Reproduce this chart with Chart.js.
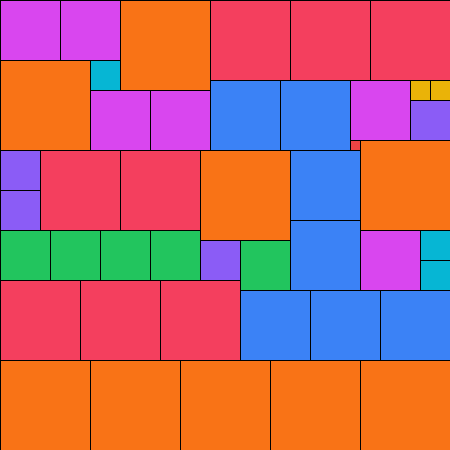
<!DOCTYPE html>
<html>
<head>
<meta charset="utf-8">
<script src="https://cdn.jsdelivr.net/npm/chart.js@4.4.1/dist/chart.umd.min.js"></script>
<style>
html,body{margin:0;padding:0;background:#fff;overflow:hidden;}
#wrap{width:450px;height:450px;position:relative;}
</style>
</head>
<body>
<div id="wrap"><canvas id="c" width="450" height="450"></canvas></div>
<script>
// Groups (colour categories)
const groups = ["magenta", "orange", "red", "blue", "cyan", "yellow", "purple", "green", "crimson"];
const groupColors = ["#d946ef", "#f97316", "#f43f5e", "#3b82f6", "#06b6d4", "#eab308", "#8b5cf6", "#22c55e", "#ef4444"];

// Cells, in grid units (grid is 45 x 45): group, left, top, side
const cellGroup = [
  "magenta","magenta","orange","red","red","red",
  "orange","cyan","magenta","magenta",
  "blue","blue","magenta","yellow","yellow","purple","crimson","orange",
  "purple","purple","red","red","orange","blue","blue",
  "green","green","green","green","purple","green","magenta","cyan","cyan",
  "red","red","red","blue","blue","blue",
  "orange","orange","orange","orange","orange"
];
const cellLeft = [
  0,6,12,21,29,37,
  0,9,9,15,
  21,28,35,41,43,41,35,36,
  0,0,4,12,20,29,29,
  0,5,10,15,20,24,36,42,42,
  0,8,16,24,31,38,
  0,9,18,27,36
];
const cellTop = [
  0,0,0,0,0,0,
  6,6,9,9,
  8,8,8,8,8,10,14,14,
  15,19,15,15,15,15,22,
  23,23,23,23,24,24,23,23,26,
  28,28,28,29,29,29,
  36,36,36,36,36
];
const cellSide = [
  6,6,9,8,8,8,
  9,3,6,6,
  7,7,6,2,2,4,1,9,
  4,4,8,8,9,7,7,
  5,5,5,5,4,5,6,3,3,
  8,8,8,7,7,7,
  9,9,9,9,9
];

const points = cellLeft.map((l, i) => ({ x: l + cellSide[i] / 2, y: cellTop[i] + cellSide[i] / 2 }));

const squaresPlugin = {
  id: 'squares',
  afterDatasetsDraw(chart) {
    const ctx = chart.ctx;
    const xs = chart.scales.x, ys = chart.scales.y;
    ctx.save();
    for (let i = 0; i < cellLeft.length; i++) {
      const x0 = Math.round(xs.getPixelForValue(cellLeft[i]));
      const x1 = Math.round(xs.getPixelForValue(cellLeft[i] + cellSide[i]));
      const y0 = Math.round(ys.getPixelForValue(cellTop[i]));
      const y1 = Math.round(ys.getPixelForValue(cellTop[i] + cellSide[i]));
      const col = groupColors[groups.indexOf(cellGroup[i])];
      ctx.fillStyle = col;
      ctx.fillRect(x0, y0, x1 - x0, y1 - y0);
      ctx.strokeStyle = '#000';
      ctx.lineWidth = 1;
      ctx.strokeRect(x0 + 0.5, y0 + 0.5, x1 - x0, y1 - y0);
    }
    ctx.restore();
  }
};

new Chart(document.getElementById('c'), {
  type: 'scatter',
  data: { datasets: [{ data: points, pointRadius: 0, pointHoverRadius: 0 }] },
  options: {
    responsive: false,
    animation: false,
    events: [],
    layout: { padding: 0 },
    plugins: { legend: { display: false }, tooltip: { enabled: false } },
    scales: {
      x: { type: 'linear', min: 0, max: 45, display: false },
      y: { type: 'linear', min: 0, max: 45, reverse: true, display: false }
    }
  },
  plugins: [squaresPlugin]
});
</script>
</body>
</html>
